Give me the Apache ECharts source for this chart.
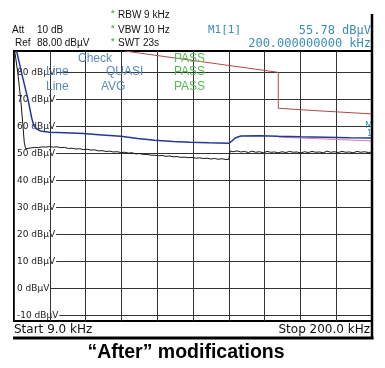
<!DOCTYPE html>
<html>
<head>
<meta charset="utf-8">
<script src="https://cdn.jsdelivr.net/npm/echarts@6/dist/echarts.min.js"></script>
<style>html,body{margin:0;padding:0;background:#fff}#c{width:385px;height:368px}</style>
</head>
<body>
<div id="c"></div>
<script>
// ---- data (frequency kHz, level dBµV) ----
const freqRange = [9, 200];
const levelRange = [-12, 88];
const yTicks = [-10, 0, 10, 20, 30, 40, 50, 60, 70, 80];

const blackTrace = [
  [9.4, 88], [11, 80], [12.6, 70], [13.8, 60], [14.5, 54], [15.2, 51.8], [16.5, 51.9],
  [18, 52.1], [20, 52.3], [22, 52.2], [24, 52.5], [26, 52.4], [28, 52.6], [30, 52.4],
  [32, 52.5], [34, 52.2], [36, 52.3], [38, 51.9], [40, 52.0], [42, 51.7], [44, 51.8],
  [46, 51.5], [48, 51.6], [50, 51.3], [52, 51.4], [54, 51.0], [56, 51.1], [58, 50.8],
  [60, 50.9], [62, 50.6], [64, 50.7], [66, 50.4], [68, 50.5], [70, 50.2], [72, 50.3],
  [74, 49.9], [76, 50.0], [78, 49.7], [80, 49.7], [82, 49.4], [84, 49.4], [86, 49.2],
  [88, 49.3], [90, 49.0], [92, 49.1], [94, 48.8], [96, 48.9], [98, 48.6], [100, 48.7],
  [102, 48.5], [104, 48.6], [106, 48.3], [108, 48.4], [110, 48.2], [112, 48.3], [114, 48.0],
  [116, 48.2], [118, 47.9], [120, 48.1], [122, 47.8], [123.6, 47.9], [124.3, 50.9],
  [126, 50.7], [128, 51.0], [130, 50.6], [132, 50.8], [134, 50.4], [136, 50.9], [138, 50.5],
  [140, 50.7], [142, 50.3], [144, 50.8], [146, 50.5], [148, 50.6], [150, 50.3], [152, 50.7],
  [154, 50.4], [156, 50.8], [158, 50.5], [160, 50.6], [162, 50.2], [164, 50.7], [166, 50.4],
  [168, 50.8], [170, 50.5], [172, 50.6], [174, 50.3], [176, 50.9], [178, 50.5], [180, 50.7],
  [182, 50.4], [184, 50.8], [186, 50.5], [188, 50.6], [190, 50.3], [192, 50.8], [194, 50.5],
  [196, 50.7], [198, 50.4], [200, 50.6]
];

const blueTrace = [
  [10.4, 88], [13, 80], [16.5, 70], [18.5, 63], [19.6, 60.4], [21, 59.2], [23, 58.4],
  [28, 57.9], [36, 57.7], [46, 57.4], [56, 56.9], [66, 56.4], [75, 55.6], [84, 54.9],
  [94, 54.5], [103, 54.2], [113, 54.0], [123.5, 53.8], [125, 54.5], [127, 55.8],
  [130, 56.5], [140, 56.6], [150, 56.4], [162, 56.2], [175, 56.1], [188, 55.9], [200, 55.78]
];

const qpLimit = [[68, 88], [150, 80.1], [150, 66.8], [170, 65.9], [200, 64.7]];
const avgLimit = [[150, 56.1], [200, 54.7]];

const headerTexts = ['Att', '10 dB', 'Ref', '88.00 dBµV', 'RBW 9 kHz', 'VBW 10 Hz', 'SWT 23s'];
const markerTexts = ['M1[1]', '55.78 dBµV', '200.000000000 kHz'];
const tableRows = [['Check', '', 'PASS'], ['Line', 'QUASI', 'PASS'], ['Line', 'AVG', 'PASS']];
const startLabel = 'Start 9.0 kHz';
const stopLabel = 'Stop 200.0 kHz';
const titleText = '“After” modifications';

// ---- chart ----
const chart = echarts.init(document.getElementById('c'), null, {renderer: 'canvas'});
const hdrFont = 'Liberation Sans';
const teal = '#3b8db5';
const tblBlue = '#5a88bb';
const green = '#55bb55';

function t(x, y, text, opt) {
  return {
    type: 'text', x: x, y: y, z: 10,
    style: Object.assign({text: text, fill: '#111', font: '10px "' + hdrFont + '"', textVerticalAlign: 'middle'}, opt || {})
  };
}

const graphics = [
  t(12, 30.5, headerTexts[0]),
  t(37, 30.5, headerTexts[1]),
  t(15, 43.5, headerTexts[2]),
  t(37, 43.5, headerTexts[3]),
  t(111, 14, '*', {fill: green, font: 'bold 9px "Liberation Sans"'}),
  t(111, 28.5, '*', {fill: green, font: 'bold 9px "Liberation Sans"'}),
  t(111, 42, '*', {fill: green, font: 'bold 9px "Liberation Sans"'}),
  t(118, 15.5, headerTexts[4]),
  t(118, 30.5, headerTexts[5]),
  t(118, 43.5, headerTexts[6]),
  t(208, 30.5, markerTexts[0], {fill: teal, font: '11px "DejaVu Sans Mono"'}),
  t(371, 30.5, markerTexts[1], {fill: teal, font: '12px "DejaVu Sans Mono"', textAlign: 'right'}),
  t(371, 44, markerTexts[2], {fill: teal, font: '12px "DejaVu Sans Mono"', textAlign: 'right'}),
  // limit table overlay
  t(78, 58.5, tableRows[0][0], {fill: tblBlue, font: '12px "Liberation Sans"'}),
  t(174, 58.5, tableRows[0][2], {fill: green, font: '12px "Liberation Sans"'}),
  t(46, 72, tableRows[1][0], {fill: tblBlue, font: '12px "Liberation Sans"'}),
  t(106, 72, tableRows[1][1], {fill: tblBlue, font: '12px "Liberation Sans"'}),
  t(174, 72, tableRows[1][2], {fill: green, font: '12px "Liberation Sans"'}),
  t(46, 86.5, tableRows[2][0], {fill: tblBlue, font: '12px "Liberation Sans"'}),
  t(101, 86.5, tableRows[2][1], {fill: tblBlue, font: '12px "Liberation Sans"'}),
  t(174, 86.5, tableRows[2][2], {fill: green, font: '12px "Liberation Sans"'}),
  // marker label at the right edge
  t(365, 126, 'M', {fill: teal, font: '9px "DejaVu Sans"'}),
  t(367, 134, '1', {fill: teal, font: '8px "DejaVu Sans"'}),
  // footer
  t(14, 330, startLabel, {font: '12px "DejaVu Sans"'}),
  t(370, 330, stopLabel, {font: '12px "DejaVu Sans"', textAlign: 'right'}),
  t(186, 353, titleText, {font: 'bold 19.5px "Liberation Sans"', textAlign: 'center', fill: '#000'}),
  // frame lines
  {type: 'line', z: 11, shape: {x1: 372, y1: 14, x2: 372, y2: 339}, style: {stroke: '#000', lineWidth: 2.5}},
  {type: 'line', z: 11, shape: {x1: 13, y1: 338, x2: 373.5, y2: 338}, style: {stroke: '#000', lineWidth: 3}}
];

const option = {
  animation: false,
  backgroundColor: '#fff',
  grid: {left: 14, top: 51, width: 358, height: 270, show: true, borderColor: '#000', borderWidth: 2, backgroundColor: 'transparent'},
  xAxis: [
    {type: 'value', min: freqRange[0], max: freqRange[1], show: true,
     axisLine: {show: false}, axisTick: {show: false}, axisLabel: {show: false}, splitLine: {show: false}},
    {type: 'value', min: 0, max: 10, interval: 1, z: 5,
     axisLine: {show: false}, axisTick: {show: false}, axisLabel: {show: false},
     splitLine: {show: true, lineStyle: {color: '#333', width: 1}}}
  ],
  yAxis: {
    type: 'value', min: levelRange[0], max: levelRange[1], z: 4,
    axisLine: {show: false},
    axisTick: {show: false, customValues: yTicks},
    axisLabel: {show: true, customValues: yTicks, inside: true, margin: 1,
      formatter: '{value} dBµV', fontSize: 9, fontFamily: 'DejaVu Sans', color: '#222',
      backgroundColor: '#fff', padding: [0, 1, 0, 2]},
    splitLine: {show: true, lineStyle: {color: '#333', width: 1}}
  },
  series: [
    {type: 'line', name: 'QP limit', data: qpLimit, xAxisIndex: 0, symbol: 'none', z: 6,
     lineStyle: {color: '#b04a45', width: 1}},
    {type: 'line', name: 'AVG limit', data: avgLimit, xAxisIndex: 0, symbol: 'none', z: 6,
     lineStyle: {color: '#cf80b4', width: 1}},
    {type: 'line', name: 'black', data: blackTrace, xAxisIndex: 0, symbol: 'none', z: 7,
     lineStyle: {color: '#151515', width: 1}},
    {type: 'line', name: 'blue', data: blueTrace, xAxisIndex: 0, symbol: 'none', z: 8,
     lineStyle: {color: '#23379a', width: 1.5}}
  ],
  graphic: graphics
};
chart.setOption(option);
</script>
</body>
</html>
